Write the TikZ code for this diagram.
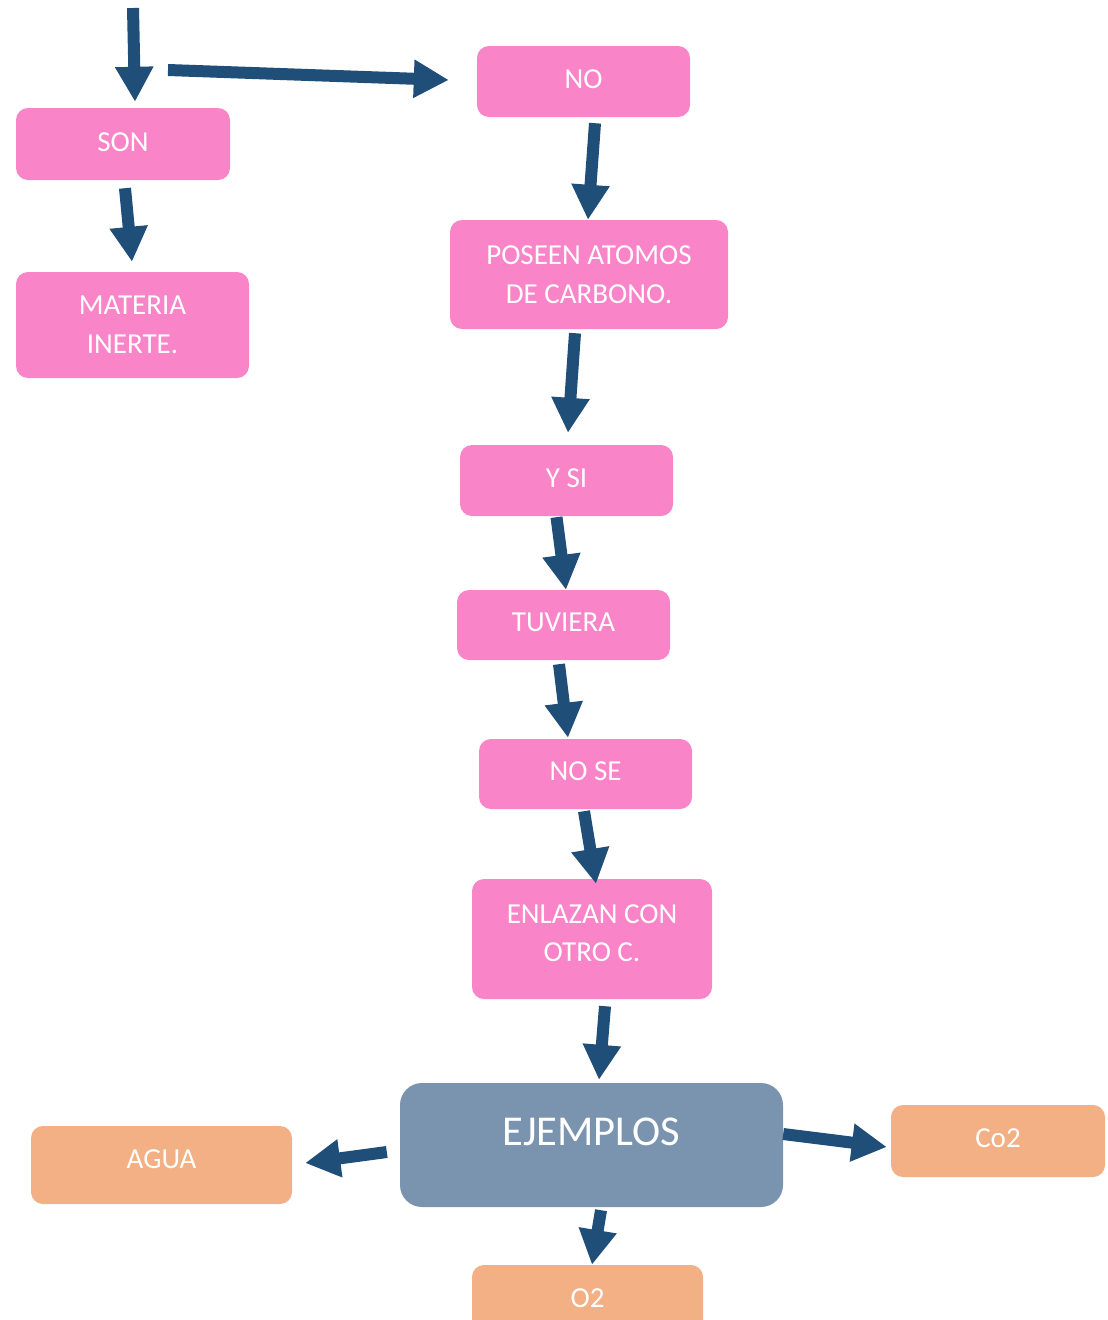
\documentclass[tikz,border=0pt]{standalone}
\usepackage{fontspec}
\setmainfont{Carlito}
\usetikzlibrary{arrows.meta}
\definecolor{pinkbox}{HTML}{F984C8}
\definecolor{greybox}{HTML}{7A94B0}
\definecolor{orangebox}{HTML}{F3B084}
\definecolor{arrowblue}{HTML}{1F4E79}
\tikzset{
  box/.style={rectangle, rounded corners=12pt, draw=none, text=white, align=center,
    inner sep=0pt, font=\fontsize{29pt}{38.5pt}\selectfont},
  pbox/.style={box, fill=pinkbox},
  obox/.style={box, fill=orangebox},
  gbox/.style={box, fill=greybox, rounded corners=22pt, font=\fontsize{42.5pt}{50pt}\selectfont},
  arr/.style={draw=arrowblue, line width=12pt, line cap=butt,
    -{Triangle[width=36pt,length=35pt]}, fill=arrowblue},
}
\begin{document}
\begin{tikzpicture}[x=1pt,y=-1pt]
\clip (0,0) rectangle (1108,1320);
\fill[white] (0,0) rectangle (1108,1320);

\node[pbox, minimum width=214pt, minimum height=72pt, text depth=4pt] (son) at (123,144) {SON};
\node[pbox, minimum width=213pt, minimum height=71pt, text depth=5pt] (no) at (583.5,81.5) {NO};
\node[pbox, minimum width=233pt, minimum height=106pt] (mat) at (132.5,325) {MATERIA\\INERTE.};
\node[pbox, minimum width=278pt, minimum height=109pt] (pos) at (589,274.5) {POSEEN ATOMOS\\DE CARBONO.};
\node[pbox, minimum width=213pt, minimum height=71pt, text depth=5pt] (ysi) at (566.5,480.5) {Y SI};
\node[pbox, minimum width=213pt, minimum height=70pt, text depth=5pt] (tuv) at (563.5,625) {TUVIERA};
\node[pbox, minimum width=213pt, minimum height=70pt, text depth=5pt] (nose) at (585.5,774) {NO SE};
\node[pbox, minimum width=240pt, minimum height=120pt, text depth=12pt] (enl) at (592,939) {ENLAZAN CON\\OTRO C.};
\node[gbox, minimum width=383pt, minimum height=124pt, text depth=26pt] (ej) at (591.5,1145) {EJEMPLOS};
\node[obox, minimum width=261pt, minimum height=78pt, text depth=11pt] (agua) at (161.5,1165) {AGUA};
\node[obox, minimum width=214pt, minimum height=72pt, text depth=6pt] (co2) at (998,1141) {Co2};
\node[obox, minimum width=231pt, minimum height=72pt, text depth=6pt] (o2) at (587.5,1301) {O2};

\coordinate (topin) at (133,8);
\coordinate (split) at (168,70);

\draw[arr] (topin) -- ([shift={(12,-6)}]son.north);
\draw[arr] (split) -- ([shift={(-28,-1.5)}]no.west);
\draw[arr] ([shift={(2,8)}]son.south) -- ([shift={(-0.5,-10)}]mat.north);
\draw[arr] ([shift={(11.5,6)}]no.south) -- ([shift={(-1,0)}]pos.north);
\draw[arr] ([shift={(-14,4)}]pos.south) -- ([shift={(1.5,-12)}]ysi.north);
\draw[arr] ([shift={(-10,1)}]ysi.south) -- ([shift={(2.5,0)}]tuv.north);
\draw[arr] ([shift={(-4.5,4)}]tuv.south) -- ([shift={(-17.5,-1)}]nose.north);
\draw[arr] ([shift={(-1.5,2)}]nose.south) -- ([shift={(4,5)}]enl.north);
\draw[arr] ([shift={(13,7)}]enl.south) -- ([shift={(7.5,-3)}]ej.north);
\draw[arr] ([shift={(-13,7)}]ej.west) -- ([shift={(13,-2)}]agua.east);
\draw[arr] ([shift={(0,-11)}]ej.east) -- ([shift={(-4,6)}]co2.west);
\draw[arr] ([shift={(9.5,3)}]ej.south) -- ([shift={(4.5,0)}]o2.north);
\end{tikzpicture}
\end{document}
